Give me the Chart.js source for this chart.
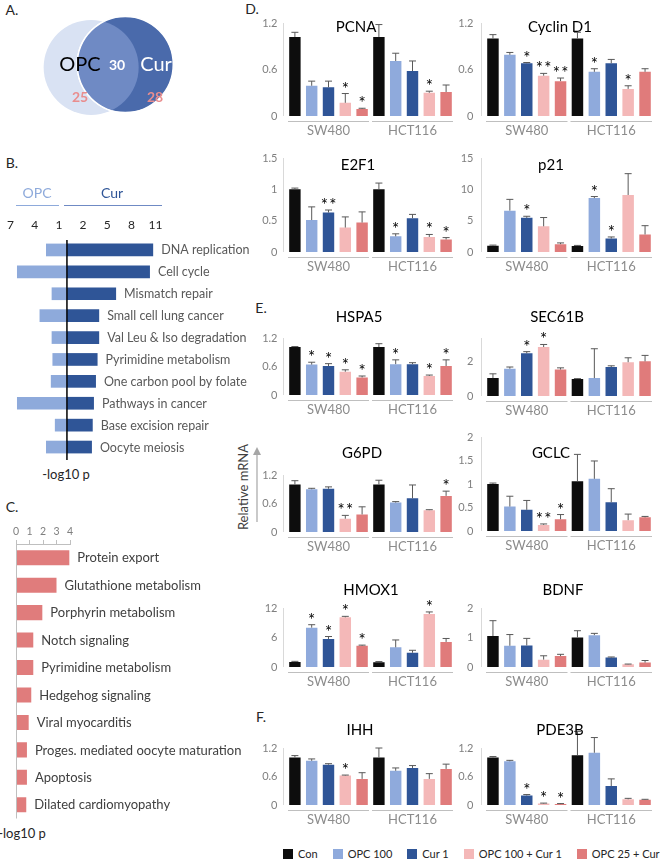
<!DOCTYPE html>
<html>
<head>
<meta charset="utf-8">
<title>OPC / Cur figure</title>
<script src="https://cdn.jsdelivr.net/npm/chart.js@4.4.1/dist/chart.umd.min.js"></script>
<style>
  body { margin: 0; background: #fff; }
  #fig { position: relative; width: 660px; height: 865px; overflow: hidden; font-family: Lato, sans-serif; color: #262626; }
  #fig canvas { position: absolute; }
  .txt { position: absolute; white-space: nowrap; transform: translate(-50%, -50%); }
  .panel { font-size: 14px; }
  .axisname { font-size: 13px; }
  #ylab { font-size: 13px; color: #404040; transform: translate(-50%, -50%) rotate(-90deg); }
  #legend { position: absolute; left: 283px; top: 848px; display: flex; gap: 15px; font-size: 11px; line-height: 12px; white-space: nowrap; }
  #legend span.item { display: flex; align-items: center; flex: none; }
  #legend i { display: inline-block; width: 10px; height: 10px; margin-right: 5px; }
</style>
</head>
<body>
<div id="fig">
  <div class="txt panel" style="left:12px;top:9px">A.</div>
  <div class="txt panel" style="left:12px;top:162px">B.</div>
  <div class="txt panel" style="left:12px;top:506px">C.</div>
  <div class="txt panel" style="left:252px;top:8px">D.</div>
  <div class="txt panel" style="left:261px;top:307px">E.</div>
  <div class="txt panel" style="left:261px;top:716px">F.</div>
  <div class="txt axisname" style="left:66px;top:474px">-log10 p</div>
  <div class="txt axisname" style="left:22px;top:833px">-log10 p</div>
  <div class="txt" id="ylab" style="left:243px;top:487px">Relative mRNA</div>
  <svg style="position:absolute;left:250px;top:446px" width="14" height="78">
    <line x1="7" y1="8" x2="7" y2="76" stroke="#a6a6a6" stroke-width="1.2"/>
    <polygon points="7,1 3,9 11,9" fill="#a6a6a6"/>
  </svg>
  <div id="legend"></div>
</div>
<script>
// ---- A: Venn counts
const vennSets = ['OPC', 'Cur'];
const vennOnly = [25, 28];
const vennShared = 30;

// ---- B: KEGG pathways, -log10 p
const keggPathways = ['DNA replication', 'Cell cycle', 'Mismatch repair', 'Small cell lung cancer',
  'Val Leu & Iso degradation', 'Pyrimidine metabolism', 'One carbon pool by folate',
  'Pathways in cancer', 'Base excision repair', 'Oocyte meiosis'];
const keggOpc = [2.6, 6.2, 1.9, 3.4, 1.9, 1.8, 2.0, 6.2, 1.5, 2.6];
const keggCur = [10.7, 10.3, 6.1, 4.0, 4.0, 3.8, 3.6, 3.35, 3.2, 3.1];
const keggTicks = [-7, -4, -1, 2, 5, 8, 11];

// ---- C: combination pathways, -log10 p
const combPathways = ['Protein export', 'Glutathione metabolism', 'Porphyrin metabolism', 'Notch signaling',
  'Pyrimidine metabolism', 'Hedgehog signaling', 'Viral myocarditis',
  'Proges. mediated oocyte maturation', 'Apoptosis', 'Dilated cardiomyopathy'];
const combValues = [3.95, 3.0, 1.95, 1.28, 1.28, 1.13, 0.94, 0.81, 0.81, 0.76];
const combTicks = [0, 1, 2, 3, 4];

// ---- D-F: relative mRNA, SW480 x5 then HCT116 x5
const cellLines = ['SW480', 'HCT116'];
const treatments = ['Con', 'OPC 100', 'Cur 1', 'OPC 100 + Cur 1', 'OPC 25 + Cur 0.5'];

const pcnaMean = [1.02, 0.39, 0.37, 0.17, 0.09, 1.02, 0.71, 0.58, 0.30, 0.31];
const pcnaErr = [0.06, 0.06, 0.08, 0.12, 0.01, 0.16, 0.10, 0.13, 0.02, 0.09];
const pcnaSig = ['', '', '', '*', '*', '', '', '', '*', ''];
const pcnaTicks = [0, 0.6, 1.2];

const ccnd1Mean = [1.0, 0.79, 0.68, 0.52, 0.45, 1.0, 0.57, 0.68, 0.35, 0.57];
const ccnd1Err = [0.05, 0.03, 0.01, 0.03, 0.04, 0.08, 0.04, 0.05, 0.04, 0.04];
const ccnd1Sig = ['', '', '*', '**', '**', '', '*', '', '*', ''];
const ccnd1Ticks = [0, 0.6, 1.2];

const e2f1Mean = [1.0, 0.51, 0.63, 0.39, 0.47, 1.0, 0.25, 0.54, 0.24, 0.20];
const e2f1Err = [0.02, 0.21, 0.04, 0.17, 0.17, 0.10, 0.04, 0.06, 0.04, 0.03];
const e2f1Sig = ['', '', '**', '', '', '', '*', '', '*', '*'];
const e2f1Ticks = [0, 0.5, 1, 1.5];

const p21Mean = [1.0, 6.6, 5.45, 4.1, 1.25, 0.95, 8.6, 2.15, 9.1, 2.8];
const p21Err = [0.1, 1.8, 0.25, 1.4, 0.2, 0.1, 0.25, 0.25, 3.4, 1.4];
const p21Sig = ['', '', '*', '', '', '', '*', '*', '', ''];
const p21Ticks = [0, 5, 10, 15];

const hspa5Mean = [1.01, 0.64, 0.61, 0.49, 0.37, 1.01, 0.65, 0.65, 0.40, 0.61];
const hspa5Err = [0.01, 0.05, 0.05, 0.04, 0.03, 0.07, 0.09, 0.03, 0.02, 0.13];
const hspa5Sig = ['', '*', '*', '*', '*', '', '*', '', '*', '*'];
const hspa5Ticks = [0, 0.6, 1.2];

const sec61bMean = [1.05, 1.6, 2.5, 2.87, 1.55, 1.0, 1.05, 1.7, 1.98, 2.03];
const sec61bErr = [0.25, 0.1, 0.1, 0.15, 0.1, 0.02, 1.72, 0.07, 0.26, 0.35];
const sec61bSig = ['', '', '*', '*', '', '', '', '', '', ''];
const sec61bTicks = [0, 2];

const g6pdMean = [1.0, 0.9, 0.91, 0.28, 0.37, 1.0, 0.62, 0.71, 0.46, 0.76];
const g6pdErr = [0.08, 0.02, 0.04, 0.07, 0.16, 0.09, 0.02, 0.28, 0.01, 0.10];
const g6pdSig = ['', '', '', '**', '', '', '', '', '', '*'];
const g6pdTicks = [0, 0.6, 1.2];

const gclcMean = [1.0, 0.52, 0.45, 0.13, 0.25, 1.06, 1.11, 0.61, 0.23, 0.29];
const gclcErr = [0.02, 0.22, 0.20, 0.02, 0.10, 0.57, 0.38, 0.29, 0.13, 0.02];
const gclcSig = ['', '', '', '**', '*', '', '', '', '', ''];
const gclcTicks = [0, 0.5, 1, 1.5, 2];

const hmox1Mean = [1.0, 8.0, 5.7, 10.1, 4.3, 0.95, 4.0, 2.9, 10.8, 5.1];
const hmox1Err = [0.15, 0.6, 0.5, 0.2, 0.15, 0.15, 1.5, 0.5, 0.4, 0.7];
const hmox1Sig = ['', '*', '*', '*', '*', '', '', '', '*', ''];
const hmox1Ticks = [0, 6, 12];

const bdnfMean = [1.05, 0.72, 0.73, 0.25, 0.37, 1.0, 1.08, 0.32, 0.09, 0.15];
const bdnfErr = [0.52, 0.38, 0.24, 0.13, 0.06, 0.23, 0.06, 0.02, 0.01, 0.07];
const bdnfSig = ['', '', '', '', '', '', '', '', '', ''];
const bdnfTicks = [0, 1, 2];

const ihhMean = [1.0, 0.93, 0.85, 0.62, 0.55, 1.0, 0.72, 0.78, 0.55, 0.76];
const ihhErr = [0.04, 0.04, 0.02, 0.01, 0.13, 0.20, 0.06, 0.05, 0.11, 0.10];
const ihhSig = ['', '', '', '*', '', '', '', '', '', ''];
const ihhTicks = [0, 0.6, 1.2];

const pde3bMean = [1.0, 0.92, 0.20, 0.03, 0.02, 1.05, 1.10, 0.40, 0.12, 0.11];
const pde3bErr = [0.02, 0.02, 0.02, 0.01, 0.01, 0.50, 0.32, 0.15, 0.02, 0.01];
const pde3bSig = ['', '', '*', '*', '*', '', '', '', '', ''];
const pde3bTicks = [0, 0.6, 1.2];

// ---- styles / layout
const treatmentColors = ['#0d0d0d', '#8faadc', '#2f5597', '#f4b8b8', '#e07b7b'];
const opcColor = '#8eaadb';
const curColor = '#2f5597';
const combColor = '#e07c7c';

const cols = [
  { left: 240, width: 222, axisW: 46.5, padR: 7.5, tickPad: 9 },
  { left: 440, width: 220, axisW: 44.5, padR: 6.5, tickPad: 11 }
];

const genePanels = [
  { name: 'PCNA', mean: pcnaMean, err: pcnaErr, sig: pcnaSig, ticks: pcnaTicks, max: 1.2, col: 0, top: 23, zero: 116, tx: 356, ty: 27 },
  { name: 'Cyclin D1', mean: ccnd1Mean, err: ccnd1Err, sig: ccnd1Sig, ticks: ccnd1Ticks, max: 1.2, col: 1, top: 23, zero: 116, tx: 560, ty: 27 },
  { name: 'E2F1', mean: e2f1Mean, err: e2f1Err, sig: e2f1Sig, ticks: e2f1Ticks, max: 1.5, col: 0, top: 158, zero: 252, tx: 358, ty: 165 },
  { name: 'p21', mean: p21Mean, err: p21Err, sig: p21Sig, ticks: p21Ticks, max: 15, col: 1, top: 158, zero: 252, tx: 551, ty: 165 },
  { name: 'HSPA5', mean: hspa5Mean, err: hspa5Err, sig: hspa5Sig, ticks: hspa5Ticks, max: 1.2, col: 0, top: 338, zero: 395, tx: 359, ty: 317 },
  { name: 'SEC61B', mean: sec61bMean, err: sec61bErr, sig: sec61bSig, ticks: sec61bTicks, max: 3.4, col: 1, top: 338, zero: 396, tx: 557, ty: 317 },
  { name: 'G6PD', mean: g6pdMean, err: g6pdErr, sig: g6pdSig, ticks: g6pdTicks, max: 1.2, col: 0, top: 475, zero: 532, tx: 362, ty: 453 },
  { name: 'GCLC', mean: gclcMean, err: gclcErr, sig: gclcSig, ticks: gclcTicks, max: 2, col: 1, top: 437, zero: 531, tx: 551, ty: 453 },
  { name: 'HMOX1', mean: hmox1Mean, err: hmox1Err, sig: hmox1Sig, ticks: hmox1Ticks, max: 12, col: 0, top: 608, zero: 667, tx: 371, ty: 590 },
  { name: 'BDNF', mean: bdnfMean, err: bdnfErr, sig: bdnfSig, ticks: bdnfTicks, max: 2, col: 1, top: 608, zero: 667, tx: 563, ty: 590 },
  { name: 'IHH', mean: ihhMean, err: ihhErr, sig: ihhSig, ticks: ihhTicks, max: 1.2, col: 0, top: 748, zero: 805, tx: 360, ty: 730 },
  { name: 'PDE3B', mean: pde3bMean, err: pde3bErr, sig: pde3bSig, ticks: pde3bTicks, max: 1.2, col: 1, top: 748, zero: 805, tx: 560, ty: 730 }
];

Chart.defaults.font.family = 'Lato, sans-serif';
Chart.defaults.animation = false;
Chart.defaults.plugins.legend.display = false;
Chart.defaults.plugins.tooltip.enabled = false;

const fig = document.getElementById('fig');

const addCanvas = (left, top, width, height) => {
  const c = document.createElement('canvas');
  c.width = width;
  c.height = height;
  Object.assign(c.style, { left: left + 'px', top: top + 'px', width: width + 'px', height: height + 'px' });
  fig.appendChild(c);
  return c;
};

const setTicks = (values) => (scale) => { scale.ticks = values.map(v => ({ value: v })); };

// ---------- A. Venn (bubble chart)
const vennLayout = [{ x: 82.5, y: 75, r: 47.5 }, { x: 150, y: 63, r: 48 }];

new Chart(addCanvas(0, 0, 200, 130), {
  type: 'bubble',
  data: {
    datasets: [{
      data: vennLayout,
      backgroundColor: ['#d9e2f3', '#4a6aab'],
      borderColor: ['rgba(0,0,0,0)', '#ffffff'],
      borderWidth: [0, 1.5],
      clip: false
    }]
  },
  options: {
    responsive: false,
    layout: { padding: 0 },
    scales: {
      x: { display: false, min: 0, max: 200 },
      y: { display: false, min: 0, max: 130, reverse: true }
    }
  },
  plugins: [{
    id: 'vennDecor',
    afterDatasetsDraw(chart) {
      const { ctx } = chart;
      const [a, b] = chart.getDatasetMeta(0).data;
      const ra = a.options.radius, rb = b.options.radius;
      ctx.save();
      ctx.beginPath();
      ctx.arc(a.x, a.y, ra, 0, Math.PI * 2);
      ctx.clip();
      ctx.beginPath();
      ctx.arc(b.x, b.y, rb, 0, Math.PI * 2);
      ctx.fillStyle = '#6f8ac4';
      ctx.fill();
      ctx.strokeStyle = '#ffffff';
      ctx.lineWidth = 1.5;
      ctx.stroke();
      ctx.restore();

      ctx.save();
      ctx.textAlign = 'center';
      ctx.textBaseline = 'middle';
      ctx.font = '20px Lato';
      ctx.fillStyle = '#000';
      ctx.fillText(vennSets[0], 80, 65);
      ctx.fillStyle = '#fff';
      ctx.fillText(vennSets[1], 156, 65);
      ctx.font = 'bold 14px Lato';
      ctx.fillText(String(vennShared), 117, 65);
      ctx.fillStyle = '#e98d8e';
      ctx.fillText(String(vennOnly[0]), 80, 97);
      ctx.fillText(String(vennOnly[1]), 155, 97);
      ctx.restore();
    }
  }]
});

// ---------- B. KEGG, OPC to the left, Cur to the right
const bTop = 150;
new Chart(addCanvas(0, bTop, 262, 325), {
  type: 'bar',
  data: {
    labels: keggPathways,
    datasets: [
      { label: 'OPC', data: keggOpc.map(v => -v), backgroundColor: opcColor },
      { label: 'Cur', data: keggCur, backgroundColor: curColor }
    ]
  },
  options: {
    indexAxis: 'y',
    responsive: false,
    datasets: { bar: { barPercentage: 0.58, categoryPercentage: 1 } },
    layout: { padding: { left: 5.35, right: 104, top: 65, bottom: 17 } },
    scales: {
      x: {
        position: 'top', stacked: true, min: -7.2, max: 11.3,
        afterFit: (s) => { s.height = 24; },
        afterBuildTicks: setTicks(keggTicks),
        grid: { display: false, drawTicks: false },
        border: { display: false },
        ticks: { padding: 7, color: '#262626', font: { size: 12 }, callback: v => String(Math.abs(v)) }
      },
      y: { stacked: true, display: false }
    }
  },
  plugins: [{
    id: 'keggDecor',
    afterDatasetsDraw(chart) {
      const { ctx, chartArea, scales: { x } } = chart;
      const x0 = x.getPixelForValue(0);
      ctx.save();
      ctx.strokeStyle = '#000';
      ctx.lineWidth = 1.5;
      ctx.beginPath();
      ctx.moveTo(x0, chartArea.top + 1);
      ctx.lineTo(x0, chartArea.bottom + 2);
      ctx.stroke();

      ctx.font = '12.5px Lato';
      ctx.fillStyle = '#595959';
      ctx.textBaseline = 'middle';
      chart.getDatasetMeta(1).data.forEach((bar, i) => {
        ctx.fillText(keggPathways[i], bar.x + 8, bar.y + 0.5);
      });

      // OPC / Cur header
      ctx.font = '14px Lato';
      ctx.textAlign = 'center';
      ctx.fillStyle = opcColor;
      ctx.fillText('OPC', 37, 193 - bTop);
      ctx.fillStyle = curColor;
      ctx.fillText('Cur', 112, 193 - bTop);
      ctx.lineWidth = 1;
      ctx.strokeStyle = opcColor;
      ctx.beginPath(); ctx.moveTo(16, 205.5 - bTop); ctx.lineTo(59, 205.5 - bTop); ctx.stroke();
      ctx.strokeStyle = '#6f8ac4';
      ctx.beginPath(); ctx.moveTo(64, 205.5 - bTop); ctx.lineTo(162, 205.5 - bTop); ctx.stroke();
      ctx.restore();
    }
  }]
});

// ---------- C. combination pathways
new Chart(addCanvas(0, 515, 262, 310), {
  type: 'bar',
  data: {
    labels: combPathways,
    datasets: [{ data: combValues, backgroundColor: combColor, barPercentage: 0.55, categoryPercentage: 1 }]
  },
  options: {
    indexAxis: 'y',
    responsive: false,
    layout: { padding: { left: 16, right: 192, top: 7, bottom: 6.5 } },
    scales: {
      x: {
        position: 'top', min: 0, max: 4,
        afterFit: (s) => { s.height = 22; },
        afterBuildTicks: setTicks(combTicks),
        grid: { display: true, drawOnChartArea: false, drawTicks: true, tickLength: 4, color: '#bfbfbf' },
        border: { display: true, color: '#bfbfbf' },
        ticks: { padding: 2, color: '#7f7f7f', font: { size: 10.5 } }
      },
      y: { display: false }
    }
  },
  plugins: [{
    id: 'combDecor',
    afterDatasetsDraw(chart) {
      const { ctx, chartArea } = chart;
      ctx.save();
      ctx.strokeStyle = '#bfbfbf';
      ctx.lineWidth = 1;
      ctx.beginPath();
      ctx.moveTo(chartArea.left + 0.5, chartArea.top);
      ctx.lineTo(chartArea.left + 0.5, chartArea.bottom);
      ctx.stroke();
      ctx.font = '13px Lato';
      ctx.fillStyle = '#404040';
      ctx.textBaseline = 'middle';
      chart.getDatasetMeta(0).data.forEach((bar, i) => {
        ctx.fillText(combPathways[i], bar.x + 8, bar.y + 0.5);
      });
      ctx.restore();
    }
  }]
});

// ---------- D-F. qPCR bar panels
const barLabels = [];
cellLines.forEach(cl => treatments.forEach(t => barLabels.push(cl + ' ' + t)));
const barColors = treatmentColors.concat(treatmentColors);

const geneDecor = (p, left, top) => ({
  id: 'geneDecor',
  afterDatasetsDraw(chart) {
    const { ctx, chartArea, scales: { x, y } } = chart;
    const bars = chart.getDatasetMeta(0).data;
    const catW = x.width / bars.length;
    ctx.save();

    ctx.strokeStyle = '#d9d9d9';
    ctx.lineWidth = 1;
    ctx.beginPath();
    ctx.moveTo(Math.round(chartArea.left - 3.5) + 0.5, chartArea.top);
    ctx.lineTo(Math.round(chartArea.left - 3.5) + 0.5, chartArea.bottom);
    ctx.stroke();

    bars.forEach((bar, i) => {
      const yErr = y.getPixelForValue(p.mean[i] + p.err[i]);
      ctx.strokeStyle = '#595959';
      ctx.lineWidth = 1;
      ctx.beginPath();
      ctx.moveTo(bar.x, bar.y);
      ctx.lineTo(bar.x, yErr);
      ctx.moveTo(bar.x - 3.5, yErr);
      ctx.lineTo(bar.x + 3.5, yErr);
      ctx.stroke();

      const n = p.sig[i].length;
      ctx.fillStyle = '#000';
      ctx.font = '17px Lato';
      ctx.textAlign = 'center';
      ctx.textBaseline = 'alphabetic';
      for (let k = 0; k < n; k++) {
        ctx.fillText('*', bar.x + (k - (n - 1) / 2) * 8.5, yErr + 1);
      }
    });

    // cell line groups
    ctx.strokeStyle = '#bfbfbf';
    ctx.lineWidth = 1.2;
    ctx.fillStyle = '#8c8c8c';
    ctx.font = '13px Lato';
    ctx.textAlign = 'center';
    ctx.textBaseline = 'middle';
    cellLines.forEach((cl, g) => {
      const x1 = bars[g * 5].x - catW / 2 + 1.5;
      const x2 = bars[g * 5 + 4].x + catW / 2 - 1.5;
      ctx.beginPath();
      ctx.moveTo(x1, chartArea.bottom + 5.5);
      ctx.lineTo(x2, chartArea.bottom + 5.5);
      ctx.stroke();
      ctx.fillText(cl, (x1 + x2) / 2, chartArea.bottom + 15);
    });

    ctx.fillStyle = '#000';
    ctx.font = '15px Lato';
    ctx.fillText(p.name, p.tx - left, p.ty - top);
    ctx.restore();
  }
});

genePanels.forEach(p => {
  const c = cols[p.col];
  const top = p.top - 34;
  new Chart(addCanvas(c.left, top, c.width, p.zero - p.top + 58), {
    type: 'bar',
    data: {
      labels: barLabels,
      datasets: [{ data: p.mean, backgroundColor: barColors, barPercentage: 0.68, categoryPercentage: 1 }]
    },
    options: {
      responsive: false,
      layout: { padding: { top: 34, bottom: 24, right: c.padR, left: 0 } },
      scales: {
        x: { display: false },
        y: {
          min: 0, max: p.max,
          afterFit: (s) => { s.width = c.axisW; },
          afterBuildTicks: setTicks(p.ticks),
          grid: { display: false, drawTicks: false },
          border: { display: false },
          ticks: { padding: c.tickPad, color: '#7f7f7f', font: { size: 11 }, callback: v => String(v) }
        }
      }
    },
    plugins: [geneDecor(p, c.left, top)]
  });
});

// ---------- legend
const legend = document.getElementById('legend');
treatments.forEach((t, i) => {
  const item = document.createElement('span');
  item.className = 'item';
  item.innerHTML = `<i style="background:${treatmentColors[i]}"></i>${t}`;
  legend.appendChild(item);
});
</script>
</body>
</html>
